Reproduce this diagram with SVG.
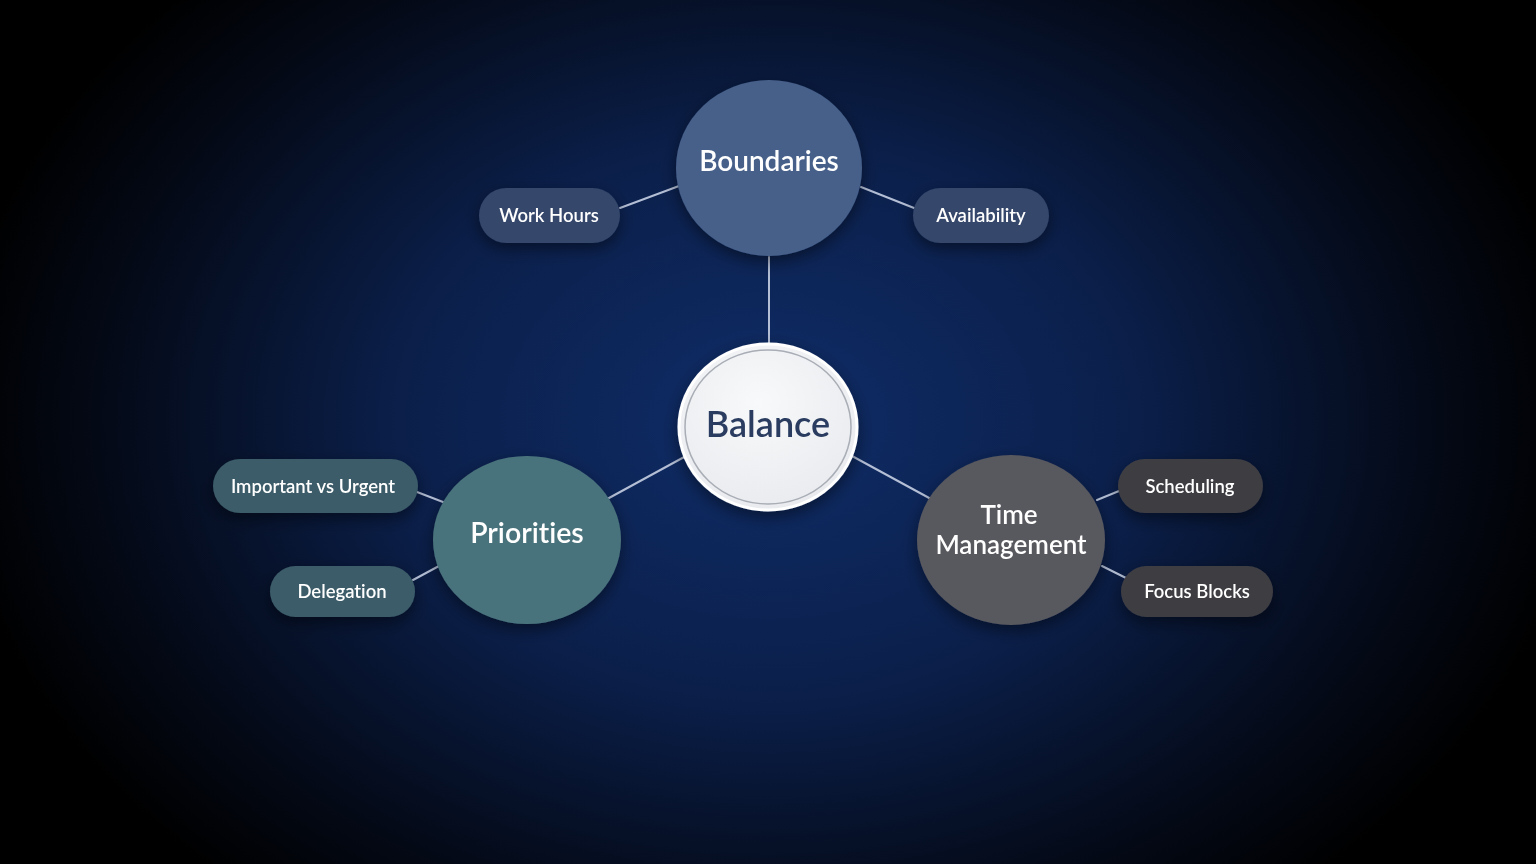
<svg xmlns="http://www.w3.org/2000/svg" width="1536" height="864" viewBox="0 0 1536 864">
<defs>
<radialGradient id="bg" cx="768" cy="420" r="820" gradientUnits="userSpaceOnUse" gradientTransform="translate(768 420) scale(1 0.75) translate(-768 -420)">
<stop offset="0" stop-color="#0f2d68"/>
<stop offset="0.45" stop-color="#0b1f4a"/>
<stop offset="0.8" stop-color="#040a18"/>
<stop offset="1" stop-color="#000000"/>
</radialGradient>
<radialGradient id="balFill" cx="0.45" cy="0.35" r="0.7">
<stop offset="0" stop-color="#f8f9fa"/>
<stop offset="1" stop-color="#e8eaee"/>
</radialGradient>
<filter id="sh" x="-30%" y="-30%" width="160%" height="170%">
<feDropShadow dx="0" dy="6" stdDeviation="8" flood-color="#000" flood-opacity="0.45"/>
</filter>
</defs>
<style>
.lbl{font-family:Lato,"Open Sans","Liberation Sans",sans-serif;font-weight:600;fill:#ffffff;text-anchor:middle;dominant-baseline:central;font-variant-ligatures:none;font-feature-settings:"liga" 0}
.conn line{stroke:#b4bfd6;stroke-width:2;stroke-linecap:round}
.pb{fill:#34466a}
.pp{fill:#3b5b67}
.pt{fill:#3e3d43}
</style>
<rect width="1536" height="864" fill="url(#bg)"/>
<g id="connectors" class="conn">
<line x1="769" y1="257" x2="769" y2="344"/>
<line x1="620" y1="208" x2="679" y2="186"/>
<line x1="861" y1="187" x2="914" y2="208"/>
<line x1="686" y1="456" x2="609" y2="498"/>
<line x1="852" y1="456" x2="931" y2="499"/>
<line x1="417" y1="492" x2="443" y2="502"/>
<line x1="413" y1="580" x2="439" y2="566"/>
<line x1="1097" y1="500" x2="1119" y2="491"/>
<line x1="1102" y1="566" x2="1126" y2="578"/>
</g>
<g id="boundaries" filter="url(#sh)">
<ellipse cx="769" cy="168" rx="93" ry="88" fill="#46608a"/>
<text class="lbl" x="769" y="160" font-size="28">Boundaries</text>
</g>
<g id="work-hours" filter="url(#sh)">
<rect class="pb" x="479" y="188" width="141" height="55" rx="27.5"/>
<text class="lbl" x="549" y="215" font-size="18.5">Work Hours</text>
</g>
<g id="availability" filter="url(#sh)">
<rect class="pb" x="913" y="188" width="136" height="55" rx="27.5"/>
<text class="lbl" x="981" y="215" font-size="18.5">Availability</text>
</g>
<g id="balance" filter="url(#sh)">
<ellipse cx="768" cy="427" rx="89" ry="83" fill="url(#balFill)" stroke="#ffffff" stroke-width="3"/>
<ellipse cx="768" cy="427" rx="83" ry="77" fill="none" stroke="#a9adb5" stroke-width="1.5"/>
<text class="lbl" x="768" y="423" font-size="36" style="fill:#2b3d60">Balance</text>
</g>
<g id="priorities" filter="url(#sh)">
<ellipse cx="527" cy="540" rx="94" ry="84" fill="#4a737b"/>
<text class="lbl" x="527" y="532" font-size="28.5">Priorities</text>
</g>
<g id="important-vs-urgent" filter="url(#sh)">
<rect class="pp" x="213" y="459" width="205" height="54" rx="27"/>
<text class="lbl" x="313" y="486" font-size="18.5">Important vs Urgent</text>
</g>
<g id="delegation" filter="url(#sh)">
<rect class="pp" x="270" y="566" width="145" height="51" rx="25.5"/>
<text class="lbl" x="342" y="591" font-size="18.5">Delegation</text>
</g>
<g id="time-management" filter="url(#sh)">
<ellipse cx="1011" cy="540" rx="94" ry="85" fill="#58585e"/>
<text class="lbl" x="1009" y="514" font-size="26">Time</text>
<text class="lbl" x="1011" y="544" font-size="26">Management</text>
</g>
<g id="scheduling" filter="url(#sh)">
<rect class="pt" x="1118" y="459" width="145" height="54" rx="27"/>
<text class="lbl" x="1190" y="486" font-size="18.5">Scheduling</text>
</g>
<g id="focus-blocks" filter="url(#sh)">
<rect class="pt" x="1121" y="566" width="152" height="51" rx="25.5"/>
<text class="lbl" x="1197" y="591" font-size="18.5">Focus Blocks</text>
</g>
</svg>
